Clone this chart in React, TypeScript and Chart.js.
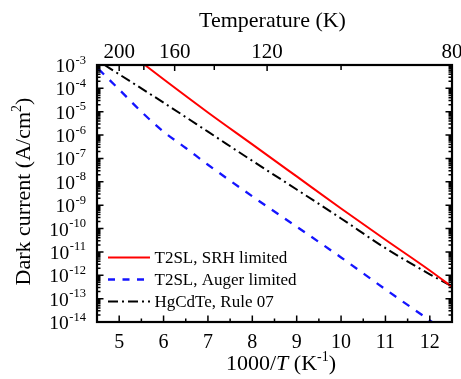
import React, { useEffect, useRef } from "react";
import { Chart, registerables } from "chart.js";

Chart.register(...registerables);

// ---- data ----
// x: 1000/T (K^-1), y: dark current (A/cm^2)
const srhX = [5.58, 6.0, 7.0, 8.0, 9.0, 10.0, 11.0, 12.0, 12.5];
const srhY = [1.0e-3, 2.45e-4, 9.3e-6, 4.0e-7, 1.7e-8, 7.2e-10, 3.3e-11, 1.6e-12, 3.2e-13];

const augerX = [4.53, 5.0, 5.5, 6.0, 6.5, 7.0, 8.0, 9.0, 10.0, 11.0, 12.05];
const augerY = [6.8e-4, 8.9e-5, 1.0e-5, 1.4e-6, 2.8e-7, 5.4e-8, 2.4e-9, 1.2e-10, 5.8e-12, 2.5e-13, 1.0e-14];

const rule07X = [4.67, 5.0, 6.0, 7.0, 8.0, 9.0, 10.0, 11.0, 12.0, 12.5];
const rule07Y = [1.0e-3, 4.0e-4, 2.45e-5, 1.4e-6, 7.9e-8, 4.7e-9, 2.7e-10, 1.45e-11, 1.1e-12, 3.4e-13];

const seriesLabels = ["T2SL, SRH limited", "T2SL, Auger limited", "HgCdTe, Rule 07"];
const seriesColors = ["#ff0000", "#1414ff", "#000000"];
const seriesDash: number[][] = [[], [8, 8], [10, 4, 2, 4]];

const bottomTicks = [5, 6, 7, 8, 9, 10, 11, 12];
const tempLabeled = [200, 160, 120, 80];
const tempMinor = [180, 140, 100];
const decadeExps = [-14, -13, -12, -11, -10, -9, -8, -7, -6, -5, -4, -3];

const X_MIN = 4.5;
const X_MAX = 12.5;
const Y_MIN = 1e-14;
const Y_MAX = 1e-3;

const FONT = "'Liberation Serif', 'Times New Roman', Times, serif";

function pts(xs: number[], ys: number[]) {
  return xs.map((x, i) => ({ x, y: ys[i] }));
}

const framePlugin = {
  id: "framePlugin",
  afterDraw(chart: any) {
    const ctx: CanvasRenderingContext2D = chart.ctx;
    const { left, right, top, bottom } = chart.chartArea;
    const xs = chart.scales.x;
    const ys = chart.scales.y;
    ctx.save();
    ctx.strokeStyle = "#000";
    ctx.fillStyle = "#000";

    // ticks
    ctx.lineWidth = 1.5;
    ctx.beginPath();
    // bottom axis: integer major, half minor
    for (let v = 5; v <= 12.5; v += 0.5) {
      const px = xs.getPixelForValue(v);
      const major = Math.abs(v - Math.round(v)) < 1e-6;
      const len = major ? 6.5 : 3.5;
      ctx.moveTo(px, bottom);
      ctx.lineTo(px, bottom - len);
    }
    // top axis (temperature)
    [...tempLabeled, ...tempMinor].forEach((t) => {
      const px = xs.getPixelForValue(1000 / t);
      const len = tempLabeled.includes(t) ? 6 : 5;
      ctx.moveTo(px, top);
      ctx.lineTo(px, top + len);
    });
    // left / right axis decades and minors
    decadeExps.forEach((e) => {
      const py = ys.getPixelForValue(Math.pow(10, e));
      ctx.moveTo(left, py);
      ctx.lineTo(left + 6.5, py);
      ctx.moveTo(right, py);
      ctx.lineTo(right - 6.5, py);
      if (e < -3) {
        for (let k = 2; k <= 9; k++) {
          const pm = ys.getPixelForValue(k * Math.pow(10, e));
          ctx.moveTo(left, pm);
          ctx.lineTo(left + 3.5, pm);
          ctx.moveTo(right, pm);
          ctx.lineTo(right - 3.5, pm);
        }
      }
    });
    ctx.stroke();

    // frame
    ctx.lineWidth = 2.2;
    ctx.strokeRect(left, top, right - left, bottom - top);

    // bottom tick labels
    ctx.font = `20px ${FONT}`;
    ctx.textAlign = "center";
    ctx.textBaseline = "alphabetic";
    bottomTicks.forEach((v) => {
      ctx.fillText(String(v), xs.getPixelForValue(v), bottom + 26);
    });

    // top tick labels
    ctx.font = `21px ${FONT}`;
    tempLabeled.forEach((t) => {
      ctx.fillText(String(t), xs.getPixelForValue(1000 / t), top - 7);
    });

    // y tick labels 10^e
    ctx.textAlign = "left";
    const rightEdge = left - 11;
    decadeExps.forEach((e) => {
      const py = ys.getPixelForValue(Math.pow(10, e));
      ctx.font = `12.5px ${FONT}`;
      const sup = String(e);
      const w2 = ctx.measureText(sup).width;
      ctx.fillText(sup, rightEdge - w2, py - 1.5);
      ctx.font = `19.5px ${FONT}`;
      const w1 = ctx.measureText("10").width;
      ctx.fillText("10", rightEdge - w2 - w1 - 0.5, py + 7);
    });

    // top title
    ctx.font = `22px ${FONT}`;
    ctx.textAlign = "center";
    ctx.fillText("Temperature (K)", (left + right) / 2 - 2, 27);

    // bottom title: 1000/T (K^-1)
    {
      const parts: { t: string; f: string; dy: number }[] = [
        { t: "1000/", f: `22px ${FONT}`, dy: 0 },
        { t: "T", f: `italic 22px ${FONT}`, dy: 0 },
        { t: " (K", f: `22px ${FONT}`, dy: 0 },
        { t: "-1", f: `14px ${FONT}`, dy: -9 },
        { t: ")", f: `22px ${FONT}`, dy: 0 },
      ];
      ctx.textAlign = "left";
      let total = 0;
      parts.forEach((p) => {
        ctx.font = p.f;
        total += ctx.measureText(p.t).width;
      });
      let x = 281 - total / 2;
      const base = bottom + 48;
      parts.forEach((p) => {
        ctx.font = p.f;
        ctx.fillText(p.t, x, base + p.dy);
        x += ctx.measureText(p.t).width;
      });
    }

    // y title: Dark current (A/cm^2)
    {
      ctx.save();
      ctx.translate(30, 191.5);
      ctx.rotate(-Math.PI / 2);
      const parts: { t: string; f: string; dy: number }[] = [
        { t: "Dark current (A/cm", f: `22px ${FONT}`, dy: 0 },
        { t: "2", f: `14px ${FONT}`, dy: -9 },
        { t: ")", f: `22px ${FONT}`, dy: 0 },
      ];
      ctx.textAlign = "left";
      let total = 0;
      parts.forEach((p) => {
        ctx.font = p.f;
        total += ctx.measureText(p.t).width;
      });
      let x = -total / 2;
      parts.forEach((p) => {
        ctx.font = p.f;
        ctx.fillText(p.t, x, p.dy);
        x += ctx.measureText(p.t).width;
      });
      ctx.restore();
    }

    // legend
    const lx0 = left + 11;
    const lx1 = left + 53;
    const rows = [bottom - 64.5, bottom - 42.5, bottom - 20.5];
    ctx.font = `17px ${FONT}`;
    ctx.textAlign = "left";
    ctx.textBaseline = "middle";
    seriesLabels.forEach((lab, i) => {
      const y = rows[i];
      ctx.save();
      ctx.strokeStyle = seriesColors[i];
      ctx.lineWidth = i === 1 ? 2.3 : 2;
      ctx.setLineDash(i === 1 ? [7, 7.5] : seriesDash[i]);
      ctx.beginPath();
      ctx.moveTo(lx0, y);
      ctx.lineTo(lx1, y);
      ctx.stroke();
      ctx.restore();
      ctx.fillStyle = "#000";
      ctx.fillText(lab, lx1 + 4.5, y + 1);
    });

    ctx.restore();
  },
};

export default function App() {
  const ref = useRef<HTMLCanvasElement | null>(null);

  useEffect(() => {
    if (!ref.current) return;
    const ds = [
      { x: srhX, y: srhY },
      { x: augerX, y: augerY },
      { x: rule07X, y: rule07Y },
    ].map((s, i) => ({
      label: seriesLabels[i],
      data: pts(s.x, s.y),
      borderColor: seriesColors[i],
      backgroundColor: seriesColors[i],
      borderWidth: i === 1 ? 2.3 : 2,
      borderDash: seriesDash[i],
      pointRadius: 0,
      fill: false,
      cubicInterpolationMode: "monotone" as const,
      xAxisID: "x",
      yAxisID: "y",
    }));

    const hiddenAxis = {
      grid: { display: false, drawTicks: false },
      border: { display: false },
      ticks: { display: false },
    };

    const chart = new Chart(ref.current, {
      type: "line",
      data: { datasets: ds as any },
      options: {
        animation: false,
        responsive: false,
        maintainAspectRatio: false,
        layout: { padding: { left: 0, right: 9, top: 0, bottom: 0 } },
        plugins: { legend: { display: false }, tooltip: { enabled: false } },
        scales: {
          x: {
            type: "linear",
            position: "bottom",
            min: X_MIN,
            max: X_MAX,
            ...hiddenAxis,
            afterFit: (s: any) => {
              s.height = 57;
            },
          },
          x2: {
            type: "linear",
            position: "top",
            min: X_MIN,
            max: X_MAX,
            ...hiddenAxis,
            afterFit: (s: any) => {
              s.height = 65;
            },
          },
          y: {
            type: "logarithmic",
            position: "left",
            min: Y_MIN,
            max: Y_MAX,
            ...hiddenAxis,
            afterFit: (s: any) => {
              s.width = 97;
            },
          },
        },
      } as any,
      plugins: [framePlugin],
    });
    return () => chart.destroy();
  }, []);

  return (
    <div style={{ position: "absolute", left: 0, top: 0, width: 461, height: 379, background: "#fff" }}>
      <canvas ref={ref} width={461} height={379} style={{ display: "block", width: 461, height: 379 }} />
    </div>
  );
}
